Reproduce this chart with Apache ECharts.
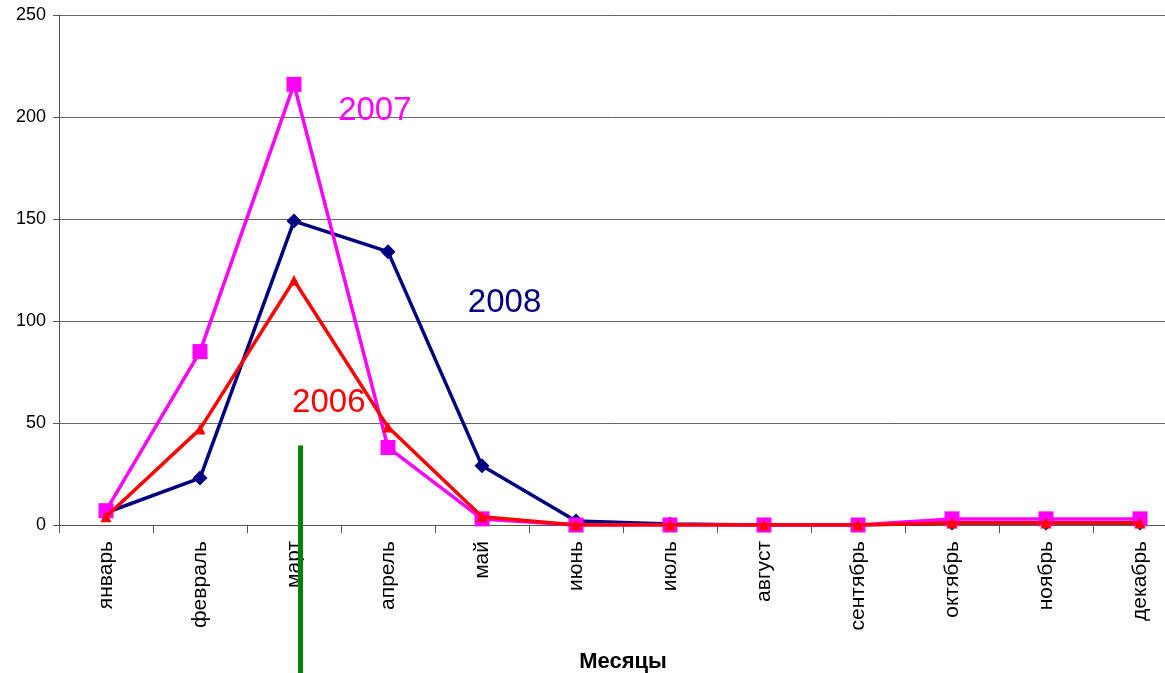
<!DOCTYPE html>
<html><head><meta charset="utf-8">
<script src="https://cdn.jsdelivr.net/npm/echarts@6/dist/echarts.min.js"></script>
<style>html,body{margin:0;padding:0;background:#fff}#c{width:1165px;height:673px}</style>
</head><body><div id="c"></div>
<script>
const months = ['январь','февраль','март','апрель','май','июнь','июль','август','сентябрь','октябрь','ноябрь','декабрь'];
const y2008 = [6, 23, 149, 134, 29, 2, 0.5, 0, 0, 1, 1, 1];
const y2007 = [7, 85, 216, 38, 3, 0, 0, 0, 0, 3, 3, 3];
const y2006 = [4, 47, 120, 48, 4, 0, 0, 0, 0, 1, 1, 1];
const yTicks = [0, 50, 100, 150, 200, 250];
const seriesNames = ['2008', '2007', '2006'];
const annotationValue = 39;

const chart = echarts.init(document.getElementById('c'));
const font = 'Liberation Sans, Arial, sans-serif';
chart.setOption({
  animation: false,
  grid: {left: 59, top: 15, right: -22, bottom: 148, outerBoundsMode: 'none', containLabel: false},
  xAxis: {
    type: 'category', data: months, boundaryGap: true,
    axisLine: {lineStyle: {color: '#555', width: 1}},
    axisTick: {show: true, length: 8, lineStyle: {color: '#555'}},
    axisLabel: {rotate: 90, color: '#000', fontSize: 21, fontFamily: font, margin: 16},
    name: 'Месяцы', nameLocation: 'middle', nameGap: 126,
    nameTextStyle: {fontSize: 22, fontWeight: 'bold', color: '#000', fontFamily: font}
  },
  yAxis: {
    type: 'value', min: yTicks[0], max: yTicks[yTicks.length-1], interval: 50,
    axisLine: {show: true, lineStyle: {color: '#555'}},
    axisTick: {show: true, length: 6, lineStyle: {color: '#555'}},
    axisLabel: {color: '#000', fontSize: 18, fontFamily: font, margin: 13},
    splitLine: {lineStyle: {color: '#666', width: 1}}
  },
  series: [
    {name: seriesNames[0], type: 'line', data: y2008, z: 2,
     symbol: 'diamond', symbolSize: 15, showAllSymbol: true,
     lineStyle: {color: '#000080', width: 3.5}, itemStyle: {color: '#000080'}},
    {name: seriesNames[1], type: 'line', data: y2007, z: 3,
     symbol: 'rect', symbolSize: 15,
     lineStyle: {color: '#FF00FF', width: 3.5}, itemStyle: {color: '#FF00FF'}},
    {name: seriesNames[2], type: 'line', data: y2006, z: 4,
     symbol: 'triangle', symbolSize: 11,
     lineStyle: {color: '#FF0000', width: 3.5}, itemStyle: {color: '#FF0000'}}
  ]
});

function px(idx, val) {
  const i0 = Math.floor(idx);
  const a = chart.convertToPixel({gridIndex: 0}, [i0, val]);
  const b = chart.convertToPixel({gridIndex: 0}, [i0 + 1, val]);
  return [a[0] + (b[0] - a[0]) * (idx - i0), a[1]];
}
function place() {
  const p2007 = px(2.86, 203);
  const p2008 = px(4.24, 109);
  const p2006 = px(2.37, 60);
  const g1 = px(2.07, annotationValue);
  const tf = {fontSize: 33, fontFamily: font, align: 'center', verticalAlign: 'middle'};
  chart.setOption({graphic: [
    {type: 'text', x: p2007[0], y: p2007[1], style: Object.assign({text: '2007', fill: '#FF00FF'}, tf), z: 10},
    {type: 'text', x: p2008[0], y: p2008[1], style: Object.assign({text: '2008', fill: '#000080'}, tf), z: 10},
    {type: 'text', x: p2006[0], y: p2006[1], style: Object.assign({text: '2006', fill: '#FF0000'}, tf), z: 10},
    {type: 'line', shape: {x1: g1[0], y1: g1[1], x2: g1[0], y2: 673}, style: {stroke: '#008000', lineWidth: 5}, z: 20}
  ]});
}
place();
</script></body></html>
